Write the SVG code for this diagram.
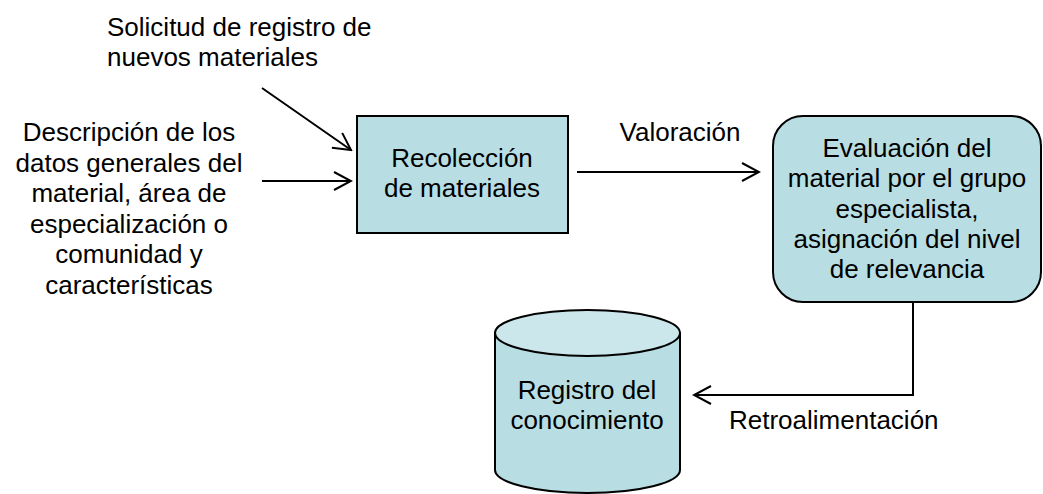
<svg xmlns="http://www.w3.org/2000/svg" width="1043" height="494" viewBox="0 0 1043 494">
  <defs>
    <style>
      text { font-family: "Liberation Sans", Arial, sans-serif; font-size: 26px; fill: #000; }
      .c { text-anchor: middle; }
      .shape { fill: #B8DEE3; stroke: #000; stroke-width: 2; }
      .top { fill: #CBE7EB; stroke: #000; stroke-width: 2; }
      .conn { fill: none; stroke: #000; stroke-width: 2; }
    </style>
    <marker id="arrow" viewBox="0 0 20 20" refX="18" refY="10" markerWidth="20" markerHeight="20" markerUnits="userSpaceOnUse" orient="auto">
      <path d="M1,1 L18,10 L1,19" fill="none" stroke="#000" stroke-width="2"/>
    </marker>
  </defs>
  <rect width="1043" height="494" fill="#fff"/>

  <g id="label-solicitud">
    <text x="107" y="36">Solicitud de registro de</text>
    <text x="107" y="66">nuevos materiales</text>
  </g>

  <g id="label-descripcion" class="c">
    <text class="c" x="129" y="141">Descripción de los</text>
    <text class="c" x="129" y="171.5">datos generales del</text>
    <text class="c" x="129" y="202">material, área de</text>
    <text class="c" x="129" y="232.5">especialización o</text>
    <text class="c" x="129" y="263">comunidad y</text>
    <text class="c" x="129" y="293.5">características</text>
  </g>

  <g id="node-recoleccion">
    <rect class="shape" x="357" y="116" width="211" height="117"/>
    <text class="c" x="462" y="167">Recolección</text>
    <text class="c" x="462" y="197">de materiales</text>
  </g>

  <g id="node-evaluacion">
    <rect class="shape" x="773" y="116" width="268" height="186" rx="30" ry="30"/>
    <text class="c" x="907" y="157">Evaluación del</text>
    <text class="c" x="907" y="187">material por el grupo</text>
    <text class="c" x="907" y="217.5">especialista,</text>
    <text class="c" x="907" y="247.5">asignación del nivel</text>
    <text class="c" x="907" y="278">de relevancia</text>
  </g>

  <g id="node-registro">
    <path class="shape" d="M495,333 L495,470 A92.5,23 0 0 0 680,470 L680,333 Z"/>
    <ellipse class="top" cx="587.5" cy="333" rx="92.5" ry="23"/>
    <text class="c" x="587" y="399">Registro del</text>
    <text class="c" x="587" y="429">conocimiento</text>
  </g>

  <g id="connectors">
    <line class="conn" x1="262" y1="88" x2="351" y2="150" marker-end="url(#arrow)"/>
    <line class="conn" x1="262" y1="181" x2="351" y2="181" marker-end="url(#arrow)"/>
    <line class="conn" x1="577" y1="172" x2="759" y2="172" marker-end="url(#arrow)"/>
    <polyline class="conn" points="913,302 913,395 694,395" marker-end="url(#arrow)"/>
  </g>

  <g id="connector-labels">
    <text class="c" x="680" y="141">Valoración</text>
    <text x="729" y="429">Retroalimentación</text>
  </g>
</svg>
